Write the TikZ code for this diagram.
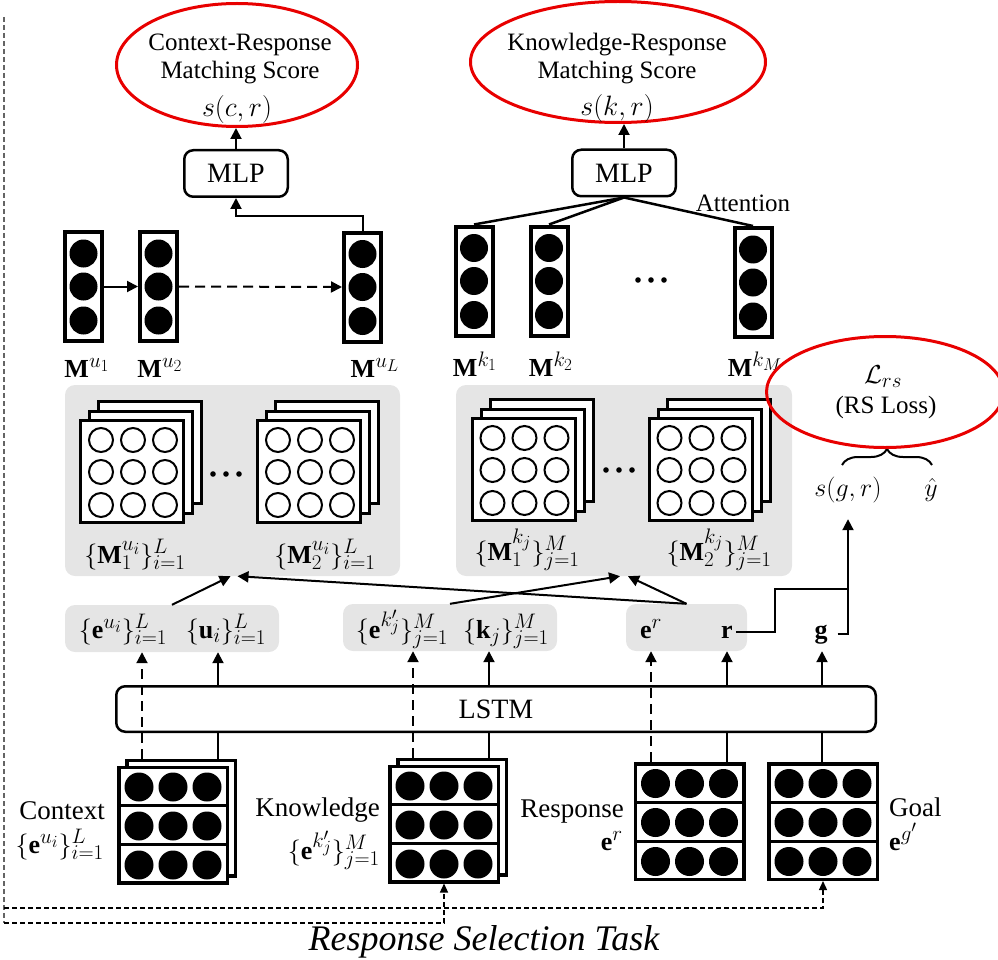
\RequirePackage{fix-cm}
\documentclass[tikz,border=0pt]{standalone}
\usepackage{fontspec}
\setmainfont{Liberation Serif}
\DeclareMathSizes{26}{26}{21}{17}
\DeclareMathSizes{28}{28}{21}{17}
\usetikzlibrary{arrows.meta,shapes.geometric,decorations.pathreplacing}
\definecolor{redc}{RGB}{232,0,0}
\definecolor{panelg}{RGB}{229,229,229}
\definecolor{dgray}{RGB}{100,100,100}
\tikzset{
  lw/.style={line width=2pt},
  arr/.style={line width=2pt,-{Triangle[length=11pt,width=11pt]}},
  darr/.style={line width=2pt,dash pattern=on 10pt off 6pt,-{Triangle[length=11pt,width=11pt]}},
  redell/.style={ellipse,draw=redc,line width=3pt,inner sep=0pt},
  rbox/.style={draw,rounded corners=9pt,line width=2.5pt,fill=white,inner sep=0pt},
  panel/.style={fill=panelg,rounded corners=10pt,inner sep=0pt},
  vcol/.style={draw,line width=4pt,fill=white,minimum width=37pt,minimum height=109pt,inner sep=0pt},
  sq/.style={draw,line width=3pt,fill=white,minimum width=103pt,minimum height=102pt,inner sep=0pt},
  blk/.style={draw,line width=3.5pt,fill=white,minimum width=108.5pt,minimum height=115.5pt,inner sep=0pt},
  t25/.style={font=\fontsize{25}{29}\selectfont,inner sep=0pt},
  t27/.style={font=\fontsize{27}{31}\selectfont,inner sep=0pt},
  t28/.style={font=\fontsize{28}{32}\selectfont},
  m26/.style={font=\fontsize{26}{30}\selectfont,inner sep=0pt},
  m28/.style={font=\fontsize{28}{32}\selectfont,inner sep=0pt},
  fb/.style={line width=1.3pt,dash pattern=on 5pt off 3pt},
  fbarr/.style={line width=1.3pt,dash pattern=on 5pt off 3pt,-{Triangle[length=9pt,width=8pt]}},
}
\newcommand{\vcolumn}[3]{%
  \node[vcol] (#1) at (#2,#3) {};
  \foreach \dy in {-33,0,34}{\fill (#2,#3) ++(0,\dy) circle (14pt);}
}
\newcommand{\stackmat}[3]{%
  \node[sq] at (#2+18,#3-19) {};
  \node[sq] at (#2+9,#3-9.5) {};
  \node[sq] (#1) at (#2,#3) {};
  \foreach \dx in {-31,1,33}{\foreach \dy in {-31.5,0.5,33.5}{\draw[line width=2pt] (#2,#3) ++(\dx,\dy) circle (12pt);}}
}
\newcommand{\dotblock}[3]{%
  \node[blk] (#1) at (#2,#3) {};
  \draw[line width=3pt] (#2-54,#3-19.5) -- (#2+54,#3-19.5);
  \draw[line width=3pt] (#2-54,#3+19.5) -- (#2+54,#3+19.5);
  \foreach \dx in {-34,0,34}{\foreach \dy in {-38,1,40}{\fill (#2,#3) ++(\dx,\dy) circle (14.5pt);}}
}
\begin{document}
\begin{tikzpicture}[x=1pt,y=-1pt]
\useasboundingbox (0,0) rectangle (998,960);

% ---------- gray panels ----------
\node[panel,minimum width=335pt,minimum height=191pt] (P1) at (232.5,480.5) {};
\node[panel,minimum width=336pt,minimum height=191pt] (P2) at (624,480.5) {};
\node[panel,minimum width=214pt,minimum height=47pt] (pA) at (172,628.5) {};
\node[panel,minimum width=214pt,minimum height=47pt] (pB) at (450,627.5) {};
\node[panel,minimum width=121pt,minimum height=47pt] (pC) at (686.5,627.5) {};

% ---------- top ellipses ----------
\node[redell,minimum width=241pt,minimum height=123pt] (cr) at (237,65) {};
\node[t25] (crt1) at (240,45) {Context-Response};
\node[t25] (crt2) at (240,73) {Matching Score};
\node[m28] (crt3) at (237,110) {$s(c,r)$};

\node[redell,minimum width=295pt,minimum height=121pt] (kr) at (618,62) {};
\node[t25] (krt1) at (617,45) {Knowledge-Response};
\node[t25] (krt2) at (617,73) {Matching Score};
\node[m28] (krt3) at (617,109) {$s(k,r)$};

% ---------- MLPs ----------
\node[rbox,t28,minimum width=103.5pt,minimum height=46.5pt] (mlp1) at (236,173.5) {MLP};
\node[rbox,t28,minimum width=103.5pt,minimum height=46.5pt] (mlp2) at (624,173) {MLP};
\draw[arr] (mlp1.north) -- (mlp1.north |- cr.south);
\draw[arr] (mlp2.north) -- (mlp2.north |- kr.south);

% ---------- column vectors ----------
\vcolumn{mu1}{83.5}{286.5}
\vcolumn{mu2}{158.5}{286.5}
\vcolumn{muL}{362.5}{287}
\vcolumn{mk1}{474}{281}
\vcolumn{mk2}{549}{281}
\vcolumn{mkM}{753}{282.5}

\draw[arr] (mu1.east) -- (mu2.west);
\draw[darr] (mu2.east) -- (muL.west);
\draw[arr] (muL.north) -- ++(0,-15) -| (mlp1.south);

\draw[line width=2.5pt] (mlp2.south) -- (mk1.north);
\draw[line width=2.5pt] (mlp2.south) -- (mk2.north);
\draw[line width=2.5pt] (mlp2.south) -- (mkM.north);
\node[t25] (att) at (743,203) {Attention};

\foreach \xx in {638,651,664}{\fill (\xx,280) circle (2.8pt);}

\node[m26,anchor=base] (lmu1) at (87,377) {$\mathbf{M}^{u_1}$};
\node[m26,anchor=base] (lmu2) at (160,377) {$\mathbf{M}^{u_2}$};
\node[m26,anchor=base] (lmuL) at (375,377) {$\mathbf{M}^{u_L}$};
\node[m26,anchor=base] (lmk1) at (475,376) {$\mathbf{M}^{k_1}$};
\node[m26,anchor=base] (lmk2) at (551,376) {$\mathbf{M}^{k_2}$};
\node[m26,anchor=base] (lmkM) at (755,376) {$\mathbf{M}^{k_M}$};

% ---------- matching matrices ----------
\stackmat{s1}{132}{471.5}
\stackmat{s2}{309}{471.5}
\stackmat{s3}{523.5}{469.5}
\stackmat{s4}{700.5}{469.5}
\foreach \xx in {213,226,239}{\fill (\xx,474) circle (2.8pt);}
\foreach \xx in {606,619,632}{\fill (\xx,470) circle (2.8pt);}

\node[m26,anchor=base] (ls1) at (135,563) {$\{\mathbf{M}_1^{u_i}\}_{i=1}^{L}$};
\node[m26,anchor=base] (ls2) at (325,563) {$\{\mathbf{M}_2^{u_i}\}_{i=1}^{L}$};
\node[m26,anchor=base] (ls3) at (527,560) {$\{\mathbf{M}_1^{k_j}\}_{j=1}^{M}$};
\node[m26,anchor=base] (ls4) at (719,560) {$\{\mathbf{M}_2^{k_j}\}_{j=1}^{M}$};

% ---------- loss ----------
\node[m26] (sgr) at (848,490) {$s(g,r)$};
\node[m26] (yh) at (931,490) {$\hat{y}$};
\coordinate (bl) at (842,465);
\coordinate (br) at (932,465);
\draw[lw,decorate,decoration={brace,amplitude=16pt}] (bl) -- (br);
\node[redell,minimum width=237pt,minimum height=111pt] (loss) at (885,392) {};
\node[m26] (lrs) at (883,377) {$\mathcal{L}_{rs}$};
\node[t25] (rsl) at (886,407) {(RS Loss)};

% ---------- encoded panels texts ----------
\node[m26,anchor=base] (eu) at (123,638) {$\{\mathbf{e}^{u_i}\}_{i=1}^{L}$};
\node[m26,anchor=base] (uu) at (226,638) {$\{\mathbf{u}_i\}_{i=1}^{L}$};
\node[m26,anchor=base] (ek) at (402,638) {$\{\mathbf{e}^{k'_j}\}_{j=1}^{M}$};
\node[m26,anchor=base] (kk) at (506,638) {$\{\mathbf{k}_j\}_{j=1}^{M}$};
\node[m26,anchor=base] (er) at (651,638) {$\mathbf{e}^{r}$};
\node[m26,anchor=base] (rr) at (727,638) {$\mathbf{r}$};
\node[m26,anchor=base] (gg) at (821,638) {$\mathbf{g}$};

% arrows into matching panels
\draw[arr] (pA.north) -- ([xshift=-2pt]P1.south);
\draw[arr] (pC.north) -- ([xshift=5pt]P1.south);
\draw[arr] (pB.north) -- ([xshift=-4pt]P2.south);
\draw[arr] (pC.north) -- ([xshift=4pt]P2.south);

% r, g to s(g,r)
\coordinate (jy) at (0,589);
\coordinate (kx) at (775,0);
\coordinate (jn) at (sgr.south |- jy);
\draw[lw] ([xshift=3pt]rr.east) -| (kx |- jn) -- (jn);
\draw[lw] ([xshift=10pt]gg.east) -| (jn);
\draw[arr] (jn) -- ([yshift=-16pt]sgr.south);

% ---------- LSTM ----------
\node[rbox,t28,minimum width=759.5pt,minimum height=45.5pt] (lstm) at (496,709) {LSTM};

% ---------- input blocks ----------
\node[blk] (ctxb) at (181,818) {};
\dotblock{ctx}{173}{825}
\node[blk] (knb) at (452,817) {};
\dotblock{kn}{444}{824}
\dotblock{resp}{689.5}{821.5}
\dotblock{goal}{823}{821.5}

\node[t27,anchor=base east] (lctx) at (105,819) {Context};
\node[m26,anchor=base east] (lctx2) at (104,853) {$\{\mathbf{e}^{u_i}\}_{i=1}^{L}$};
\node[t27,anchor=base east] (lkn) at (380,816) {Knowledge};
\node[m26,anchor=base east] (lkn2) at (380,859) {$\{\mathbf{e}^{k'_j}\}_{j=1}^{M}$};
\node[t27,anchor=base east] (lre) at (624,817) {Response};
\node[m26,anchor=base east] (lre2) at (623,850) {$\mathbf{e}^{r}$};
\node[t27,anchor=base west] (lgo) at (889,816) {Goal};
\node[m26,anchor=base west] (lgo2) at (889,850) {$\mathbf{e}^{g'}$};

% ---------- vertical connectors ----------
\coordinate (xa1) at (142,0);
\coordinate (xa2) at (218,0);
\coordinate (xb1) at (413,0);
\coordinate (xb2) at (489,0);
\coordinate (xc1) at (651,0);
\coordinate (xc2) at (727,0);
\coordinate (xd) at (822,0);

\draw[darr] (xa1 |- ctxb.north) -- (xa1 |- pA.south);
\draw[lw] (xa2 |- ctxb.north) -- (xa2 |- lstm.south);
\draw[arr] (xa2 |- lstm.north) -- (xa2 |- pA.south);

\draw[darr] (xb1 |- knb.north) -- (xb1 |- pB.south);
\draw[lw] (xb2 |- knb.north) -- (xb2 |- lstm.south);
\draw[arr] (xb2 |- lstm.north) -- (xb2 |- pB.south);

\draw[darr] (xc1 |- resp.north) -- (xc1 |- pC.south);
\draw[lw] (xc2 |- resp.north) -- (xc2 |- lstm.south);
\draw[arr] (xc2 |- lstm.north) -- (xc2 |- pC.south);

\draw[lw] (xd |- goal.north) -- (xd |- lstm.south);
\draw[arr] (xd |- lstm.north) -- (xd |- pC.south);

% ---------- dashed task frame ----------
\coordinate (ftop) at (4,17);
\coordinate (fb1) at (4,908);
\coordinate (fb2) at (4,923);
\draw[fb,dgray] (ftop) -- (fb2);
\draw[fbarr] (fb1) -| (goal.south);
\draw[fbarr] (fb2) -| (kn.south);

\node[font=\fontsize{36}{40}\selectfont\itshape,inner sep=0pt] (title) at (484,942) {Response Selection Task};
\end{tikzpicture}
\end{document}
